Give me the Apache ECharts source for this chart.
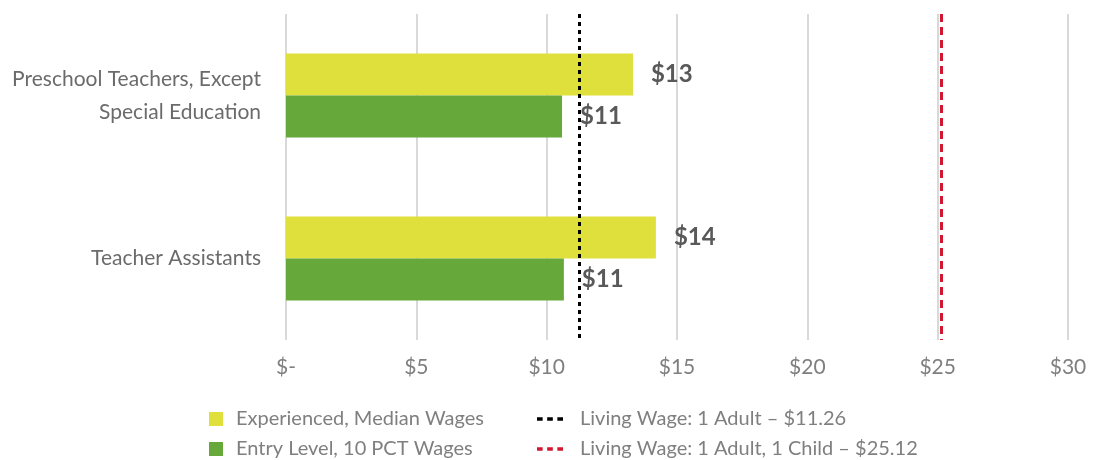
<!DOCTYPE html>
<html><head><meta charset="utf-8">
<script src="https://cdn.jsdelivr.net/npm/echarts@6/dist/echarts.min.js"></script>
<style>html,body{margin:0;padding:0;background:#fff}#c{width:1093px;height:460px}</style>
</head><body><div id="c"></div>
<script>
const categories = ['Preschool Teachers, Except\nSpecial Education', 'Teacher Assistants'];
const experienced = [13.31, 14.19];
const entryLevel = [10.59, 10.66];
const livingWage1 = 11.26;
const livingWage2 = 25.12;
const seriesNames = ['Experienced, Median Wages', 'Entry Level, 10 PCT Wages', 'Living Wage: 1 Adult \u2013 $11.26', 'Living Wage: 1 Adult, 1 Child \u2013 $25.12'];
const tickLabels = {0: '$-', 5: '$5', 10: '$10', 15: '$15', 20: '$20', 25: '$25', 30: '$30'};

const FONT = 'Lato';
const dashIcon = 'path://M0,0h5v3h-5z M9,0h5v3h-5z M18,0h5v3h-5z';
const chart = echarts.init(document.getElementById('c'));
const valLabel = {show: true, position: 'right', distance: 18, formatter: p => '$' + Math.round(p.value), fontFamily: FONT, fontWeight: 'bold', fontSize: 24, color: '#595959'};
const legTxt = {fontFamily: FONT, fontSize: 20, color: '#7f7f7f'};
function leg(name, left, top, icon, w) {
  return {left: left, top: top, itemWidth: w, itemHeight: 14, itemGap: 0, selectedMode: false,
    data: [{name: name, icon: icon}], textStyle: Object.assign({padding: [0, 0, 0, icon === 'rect' ? 8 : 12]}, legTxt)};
}
chart.setOption({
  animation: false,
  grid: {left: 286, right: 25, top: 14, bottom: 120},
  xAxis: {type: 'value', min: 0, max: 30, interval: 5,
    axisLine: {show: false}, axisTick: {show: false},
    splitLine: {lineStyle: {color: '#d9d9d9', width: 2}},
    axisLabel: {formatter: v => tickLabels[v], fontFamily: FONT, fontSize: 21, color: '#7f7f7f', margin: 17}},
  yAxis: {type: 'category', data: categories, inverse: true,
    axisLine: {show: false}, axisTick: {show: false},
    axisLabel: {fontFamily: FONT, fontSize: 21, color: '#6b6b6b', margin: 25, lineHeight: 33, align: 'right'}},
  legend: [
    leg(seriesNames[0], 204, 404, 'rect', 14),
    leg(seriesNames[1], 204, 434, 'rect', 14),
    leg(seriesNames[2], 532, 404, dashIcon, 26),
    leg(seriesNames[3], 532, 434, dashIcon, 26)
  ],
  series: [
    {name: seriesNames[0], type: 'bar', data: experienced, barWidth: 42, barGap: '0%', itemStyle: {color: '#e0e03c'}, label: valLabel},
    {name: seriesNames[1], type: 'bar', data: entryLevel, barWidth: 42, barGap: '0%', itemStyle: {color: '#66a83a'}, label: valLabel},
    {name: seriesNames[2], type: 'line', data: [], itemStyle: {color: '#000'}, lineStyle: {color: '#000'},
      markLine: {silent: true, symbol: 'none', label: {show: false},
        lineStyle: {color: '#000', type: [4, 4], width: 3}, data: [{xAxis: livingWage1}]}},
    {name: seriesNames[3], type: 'line', data: [], itemStyle: {color: '#d0182f'}, lineStyle: {color: '#d0182f'},
      markLine: {silent: true, symbol: 'none', label: {show: false},
        lineStyle: {color: '#d0182f', type: [8, 5], width: 3}, data: [{xAxis: livingWage2}]}}
  ]
});
</script></body></html>
